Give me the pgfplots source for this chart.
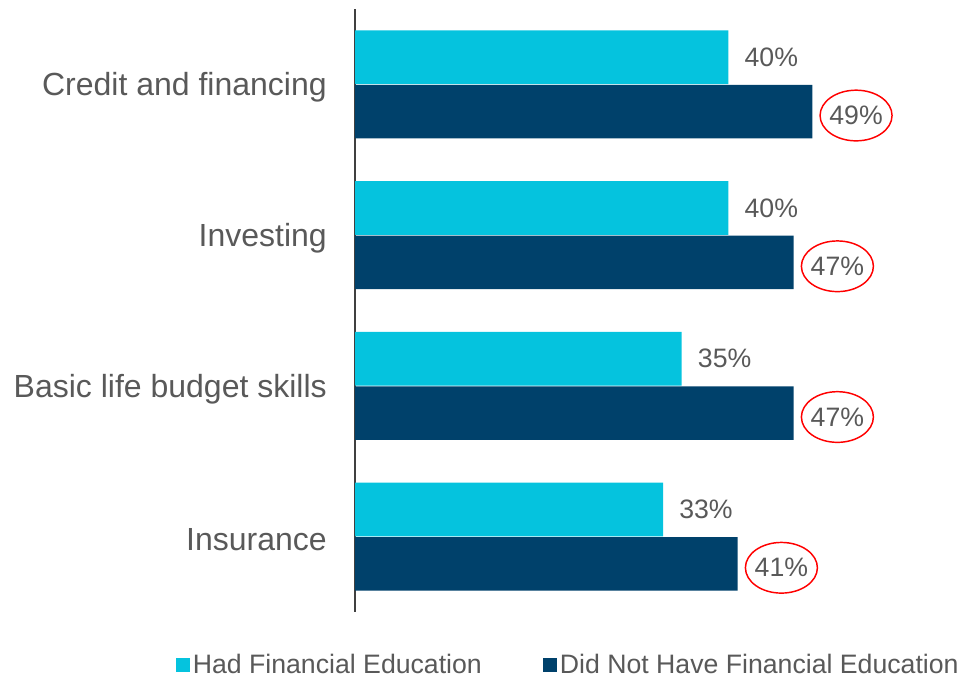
\documentclass[border=0pt]{standalone}
\usepackage{fontspec}
\setmainfont{Liberation Sans}
\usepackage{pgfplots}
\pgfplotsset{compat=1.18}
\usetikzlibrary{shapes.geometric}
\definecolor{lightbar}{RGB}{5,195,222}
\definecolor{darkbar}{RGB}{0,65,107}
\definecolor{txt}{RGB}{89,89,89}
\definecolor{axisgray}{RGB}{64,64,64}

\begin{document}
\begin{tikzpicture}
\useasboundingbox (0,0) rectangle (721.5pt,508.5pt);
\begin{axis}[
  at={(266.25pt,49.5pt)}, anchor=south west,
  scale only axis, width=420pt, height=452.25pt,
  xbar, bar width=0.355,
  xmin=0, xmax=60, ymin=-0.5, ymax=3.5, y dir=reverse,
  ytick={0,1,2,3},
  yticklabels={Credit and financing, Investing, Basic life budget skills, Insurance},
  yticklabel style={font=\fontsize{24}{28}\selectfont, text=txt, inner sep=0pt, xshift=-21pt, yshift=-2.5pt},
  major tick length=0pt,
  axis x line=none, axis y line*=left,
  y axis line style={axisgray, line width=1.5pt},
  /pgf/number format/assume math mode=true,
  nodes near coords={\pgfmathprintnumber{\pgfplotspointmeta}\%},
  nodes near coords style={font=\fontsize{20}{24}\selectfont, text=txt},
  legend style={at={(-0.327,-0.0875)}, anchor=west, draw=none,
    legend columns=2, font=\fontsize{20}{24}\selectfont, text=txt,
    /tikz/every even column/.append style={column sep=44pt}},
  legend image code/.code={\fill[#1] (0pt,-5.25pt) rectangle (10.5pt,5.25pt);},
]
\addplot[fill=lightbar, draw=none, bar shift=-0.18,
  every node near coord/.append style={anchor=west, inner sep=0pt, xshift=12pt}]
  coordinates {(40,0) (40,1) (35,2) (33,3)};
\addplot[fill=darkbar, draw=none, bar shift=0.18,
  every node near coord/.append style={anchor=west, draw=red, line width=1.1pt,
    ellipse, inner sep=-3pt, minimum width=54pt, minimum height=38pt,
    xshift=5.25pt, yshift=-3pt}]
  coordinates {(49,0) (47,1) (47,2) (41,3)};
\legend{Had Financial Education, Did Not Have Financial Education}
\end{axis}
\end{tikzpicture}
\end{document}
